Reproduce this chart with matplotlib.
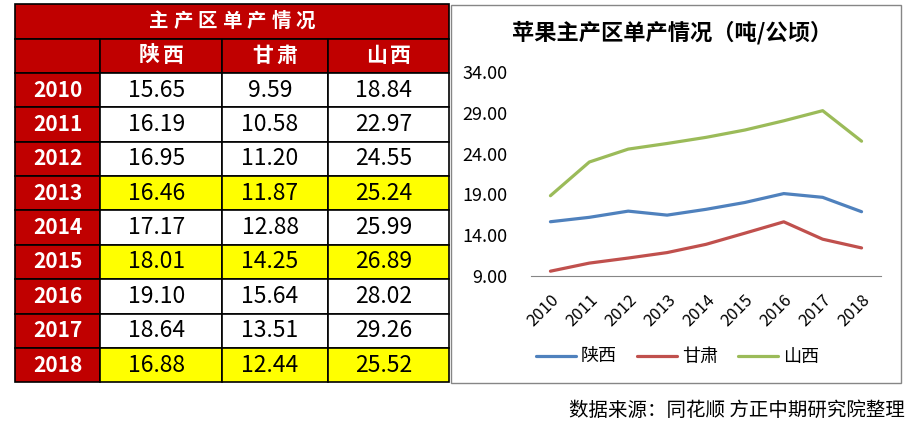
import numpy as np
import matplotlib

matplotlib.use("Agg")
import matplotlib.pyplot as plt
from matplotlib.patches import Rectangle

plt.rcParams["font.family"] = ["Noto Sans CJK SC", "DejaVu Sans"]

years = ["2010", "2011", "2012", "2013", "2014", "2015", "2016", "2017", "2018"]
regions = ["陕西", "甘肃", "山西"]
shaanxi = [15.65, 16.19, 16.95, 16.46, 17.17, 18.01, 19.10, 18.64, 16.88]
gansu = [9.59, 10.58, 11.20, 11.87, 12.88, 14.25, 15.64, 13.51, 12.44]
shanxi = [18.84, 22.97, 24.55, 25.24, 25.99, 26.89, 28.02, 29.26, 25.52]
highlight_years = ["2013", "2015", "2018"]
yticks = [9, 14, 19, 24, 29, 34]

table_title = "主产区单产情况"
chart_title = "苹果主产区单产情况（吨/公顷）"
source_text = "数据来源：同花顺 方正中期研究院整理"

RED = "#C00000"
YELLOW = "#FFFF00"
LINE_COLORS = ["#4F81BD", "#C0504D", "#9BBB59"]

W, H = 916, 429
fig = plt.figure(figsize=(W / 100, H / 100), dpi=100)

# overlay axes in pixel coords for the table and the panel frame
ov = fig.add_axes([0, 0, 1, 1])
ov.set_xlim(0, W)
ov.set_ylim(H, 0)
ov.axis("off")


def spaced(xc, y, s, step, **kw):
    # one glyph at a time, the reference font is letter-spaced
    x0 = xc - step * (len(s) - 1) / 2
    for k, ch in enumerate(s):
        ov.text(x0 + k * step, y, ch, ha="center", va="center", **kw)


col_x = [15.3, 100.3, 222, 328, 448.7]
row_top = 4.3
row_h = 34.36


def cell(x0, x1, r, color):
    ov.add_patch(Rectangle((x0, row_top + r * row_h), x1 - x0, row_h,
                           facecolor=color, edgecolor="black", linewidth=1.2))


# title row
cell(col_x[0], col_x[-1], 0, RED)
spaced((col_x[0] + col_x[-1]) / 2, row_top + 0.5 * row_h, table_title, 24.5,
       color="white", fontsize=14, fontweight="bold")

# header row
for c in range(4):
    cell(col_x[c], col_x[c + 1], 1, RED)
for c, name in enumerate(regions):
    spaced((col_x[c + 1] + col_x[c + 2]) / 2, row_top + 1.5 * row_h, name, 24,
           color="white", fontsize=15, fontweight="bold")

# data rows
series = [shaanxi, gansu, shanxi]
for i, yr in enumerate(years):
    r = i + 2
    cy = row_top + (r + 0.5) * row_h
    cell(col_x[0], col_x[1], r, RED)
    ov.text((col_x[0] + col_x[1]) / 2, cy, yr, color="white", fontsize=15,
            fontweight="bold", ha="center", va="center")
    bg = YELLOW if yr in highlight_years else "white"
    for c in range(3):
        cell(col_x[c + 1], col_x[c + 2], r, bg)
        ov.text((col_x[c + 1] + col_x[c + 2]) / 2 - 5, cy, f"{series[c][i]:.2f}",
                color="black", fontsize=16.5, ha="center", va="center")

# chart panel frame
ov.add_patch(Rectangle((451, 5), 450, 378, facecolor="none",
                       edgecolor="#868686", linewidth=1.0))

# line chart
ax = fig.add_axes([531 / W, (H - 276) / H, 350 / W, (276 - 72) / H])
x = np.arange(len(years))
for vals, name, col in zip(series, regions, LINE_COLORS):
    ax.plot(x, vals, color=col, linewidth=2.3, label=name, solid_capstyle="round")
ax.set_xlim(-0.5, len(years) - 0.5)
ax.set_ylim(9, 34)
ax.set_yticks(yticks)
ax.set_yticklabels([f"{v:.2f}" for v in yticks], fontsize=13)
ax.set_xticks(x)
ax.set_xticklabels(years, rotation=45, ha="right", rotation_mode="anchor", fontsize=12)
ax.tick_params(axis="y", length=0, pad=17)
ax.tick_params(axis="x", length=0, pad=11)
for s in ["top", "right", "left"]:
    ax.spines[s].set_visible(False)
ax.spines["bottom"].set_color("#868686")
ax.patch.set_alpha(0)

fig.legend(*ax.get_legend_handles_labels(), loc="center",
           bbox_to_anchor=(677.5 / W, (H - 357) / H), ncol=3, frameon=False,
           fontsize=13, handlelength=2.2, handletextpad=0.3, columnspacing=1.1)

fig.text(672 / W, (H - 33) / H, chart_title, fontsize=16, fontweight="bold",
         ha="center", va="center")
fig.text(905 / W, (H - 410) / H, source_text, fontsize=14, ha="right", va="center")

fig.savefig("out.png", dpi=100)
